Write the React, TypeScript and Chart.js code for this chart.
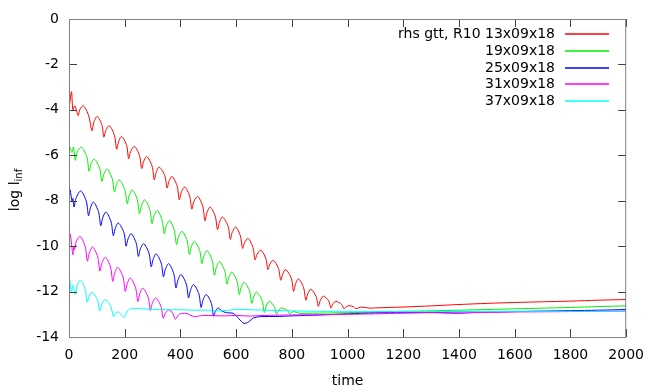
import React, { useEffect, useRef } from 'react';
import { Chart, registerables } from 'chart.js';

Chart.register(...registerables);

const FONT = '"DejaVu Sans", "Liberation Sans", sans-serif';

const seriesLabels = ['rhs gtt, R10 13x09x18', '19x09x18', '25x09x18', '31x09x18', '37x09x18'];
const seriesColors = ['#ff0000', '#00ee00', '#0000ff', '#ff00ff', '#00ffff'];

const xTicks = [0, 200, 400, 600, 800, 1000, 1200, 1400, 1600, 1800, 2000];
const yTicks = [0, -2, -4, -6, -8, -10, -12, -14];
const xTitle = 'time';
const yTitleMain = 'log l';
const yTitleSub = 'inf';

const red: [number, number][] = [
  [2, -3.78], [9, -3.2], [14, -4.0], [21, -3.82], [33, -4.25], [39, -3.98], [52, -3.82], [71, -4.27], [82, -4.92],
  [89, -4.55], [101, -4.29], [118, -4.66], [125, -5.2],
  [132, -4.91], [145, -4.7], [163, -5.12], [171, -5.73],
  [178, -5.4], [189, -5.17], [207, -5.57], [214, -6.15],
  [221, -5.84], [235, -5.61], [253, -6.01], [261, -6.58],
  [268, -6.27], [279, -6.05], [298, -6.47], [306, -7.08],
  [313, -6.75], [324, -6.52], [344, -6.9], [352, -7.44],
  [359, -7.14], [370, -6.93], [388, -7.35], [396, -7.96],
  [403, -7.63], [416, -7.4], [433, -7.8], [441, -8.37],
  [448, -8.04], [462, -7.81], [480, -8.25], [488, -8.88],
  [495, -8.53], [507, -8.28], [525, -8.69], [533, -9.27],
  [540, -8.95], [551, -8.72], [571, -9.12], [579, -9.7],
  [586, -9.39], [599, -9.16], [615, -9.55], [623, -10.1],
  [630, -9.85], [643, -9.66], [660, -10.05], [668, -10.6],
  [675, -10.36], [689, -10.18], [706, -10.53], [714, -11.03],
  [721, -10.79], [733, -10.62], [752, -10.98], [760, -11.5],
  [767, -11.23], [778, -11.03], [798, -11.42], [806, -11.99],
  [813, -11.67], [824, -11.44], [842, -11.83], [850, -12.38],
  [857, -12.1], [868, -11.9], [887, -12.21], [895, -12.65],
  [902, -12.39], [913, -12.2], [932, -12.41], [940, -12.72],
  [947, -12.55], [958, -12.43], [979, -12.57], [987, -12.76],
  [994, -12.68], [1005, -12.62], [1022, -12.67], [1029, -12.75],
  [1050, -12.68], [1077, -12.73], [1100, -12.72], [1200, -12.68], [1300, -12.63], [1400, -12.57],
  [1500, -12.52], [1600, -12.48], [1700, -12.45], [1800, -12.42], [1900, -12.38], [2000, -12.35],
];

const green: [number, number][] = [
  [0, -5.54], [5, -5.72], [11, -5.88], [16, -5.64], [23, -6.22], [29, -5.86], [44, -5.64], [64, -6.07], [72, -6.7],
  [79, -6.39], [91, -6.17], [110, -6.57], [118, -7.15],
  [125, -6.84], [137, -6.61], [155, -7.02], [163, -7.62],
  [170, -7.31], [181, -7.08], [200, -7.51], [209, -8.13],
  [216, -7.78], [227, -7.52], [245, -7.95], [253, -8.57],
  [260, -8.22], [272, -7.96], [290, -8.39], [298, -9.01],
  [305, -8.67], [317, -8.43], [334, -8.85], [342, -9.45],
  [349, -9.11], [361, -8.87], [378, -9.3], [386, -9.93],
  [393, -9.59], [406, -9.35], [424, -9.77], [432, -10.37],
  [439, -10.03], [450, -9.79], [469, -10.19], [477, -10.77],
  [484, -10.44], [496, -10.2], [514, -10.64], [522, -11.28],
  [529, -10.93], [540, -10.68], [559, -11.09], [567, -11.67],
  [574, -11.36], [585, -11.14], [603, -11.55], [611, -12.13],
  [618, -11.82], [629, -11.59], [648, -11.97], [656, -12.52],
  [663, -12.23], [673, -12.02], [693, -12.39], [701, -12.92],
  [708, -12.64], [719, -12.43], [737, -12.66], [745, -13.0],
  [752, -12.84], [762, -12.72], [784, -12.83], [792, -12.98],
  [800, -12.92], [808, -12.88], [830, -12.97], [850, -12.96], [900, -12.95], [1000, -12.93],
  [1100, -12.9], [1200, -12.87], [1300, -12.85], [1400, -12.82], [1500, -12.79], [1600, -12.76],
  [1700, -12.73], [1800, -12.7], [1900, -12.66], [2000, -12.63],
];

const blue: [number, number][] = [
  [0, -7.44], [4, -7.52], [11, -8.03], [14, -7.9], [18, -8.28], [25, -7.9], [42, -7.57], [62, -8.02], [70, -8.66],
  [77, -8.31], [88, -8.06], [106, -8.49], [114, -9.1],
  [121, -8.75], [133, -8.5], [151, -8.93], [159, -9.54],
  [166, -9.22], [177, -8.98], [197, -9.4], [205, -10.0],
  [212, -9.68], [223, -9.45], [241, -9.86], [249, -10.45],
  [256, -10.13], [268, -9.89], [287, -10.31], [295, -10.91],
  [302, -10.58], [313, -10.34], [331, -10.75], [339, -11.35],
  [346, -11.01], [358, -10.77], [376, -11.21], [384, -11.84],
  [391, -11.5], [402, -11.25], [421, -11.67], [429, -12.28],
  [436, -11.94], [447, -11.69], [466, -12.1], [474, -12.7],
  [481, -12.37], [493, -12.13], [511, -12.52], [519, -13.08],
  [525, -12.88], [535, -12.72], [548, -12.85], [565, -12.93], [590, -12.96], [610, -13.2], [628, -13.4],
  [645, -13.33], [662, -13.16], [690, -13.1], [740, -13.1], [800, -13.07], [900, -13.03], [1000, -12.98],
  [1100, -12.94], [1200, -12.93], [1300, -12.92], [1400, -12.9], [1500, -12.9], [1600, -12.88],
  [1700, -12.86], [1800, -12.84], [1900, -12.82], [2000, -12.79],
];

const magenta: [number, number][] = [
  [0, -9.39], [5, -9.5], [14, -10.38], [17, -10.0], [20, -10.15], [26, -9.8], [40, -9.57], [58, -10.02], [66, -10.66],
  [73, -10.3], [85, -10.04], [103, -10.47], [111, -11.1],
  [118, -10.75], [131, -10.49], [149, -10.92], [157, -11.55],
  [164, -11.19], [175, -10.93], [194, -11.36], [202, -11.99],
  [209, -11.65], [220, -11.4], [239, -11.83], [247, -12.44],
  [254, -12.1], [265, -11.85], [284, -12.25], [292, -12.83],
  [299, -12.51], [311, -12.28], [330, -12.65], [338, -13.18],
  [345, -12.98], [358, -12.8], [372, -12.95], [382, -13.22], [395, -13.0], [420, -12.96], [450, -13.1],
  [480, -13.05], [520, -13.06], [560, -13.07], [600, -13.05], [650, -13.08], [700, -13.05], [800, -13.03],
  [900, -13.02], [1000, -13.0], [1100, -12.98], [1200, -12.95], [1300, -12.93], [1350, -12.95],
  [1400, -12.97], [1450, -12.93], [1500, -12.92], [1600, -12.9], [1700, -12.89], [1800, -12.88],
  [1900, -12.87], [2000, -12.86],
];

const cyan: [number, number][] = [
  [0, -11.4], [3, -11.5], [9, -12.06], [13, -11.72], [17, -11.88], [23, -12.13], [29, -11.75], [41, -11.5],
  [58, -11.9], [65, -12.47],
  [72, -12.21], [83, -12.02], [102, -12.36], [110, -12.86],
  [117, -12.56], [131, -12.35], [150, -12.66], [160, -13.11],
  [167, -12.95], [178, -12.9], [190, -13.05], [198, -13.14], [210, -12.85], [225, -12.74], [260, -12.76],
  [300, -12.78], [350, -12.8], [400, -12.8], [450, -12.82], [500, -12.82], [550, -12.85], [600, -12.78],
  [650, -12.8], [700, -12.82], [800, -12.85], [900, -12.87], [1000, -12.87], [1100, -12.87], [1200, -12.88],
  [1300, -12.88], [1400, -12.87], [1500, -12.88], [1600, -12.87], [1700, -12.87], [1800, -12.87],
  [1900, -12.87], [2000, -12.86],
];

const seriesData = [red, green, blue, magenta, cyan];

const framePlugin = {
  id: 'gnuplotFrame',
  afterDraw(chart: any) {
    const { ctx, chartArea: a, scales } = chart;
    const xs = scales.x;
    const ys = scales.y;
    ctx.save();
    // ticks (inward, mirrored)
    ctx.strokeStyle = '#404040';
    ctx.lineWidth = 1;
    ctx.beginPath();
    for (const v of xTicks) {
      const px = Math.round(xs.getPixelForValue(v)) + 0.5;
      ctx.moveTo(px, a.bottom);
      ctx.lineTo(px, a.bottom - 8);
      ctx.moveTo(px, a.top);
      ctx.lineTo(px, a.top + 8);
    }
    for (const v of yTicks) {
      const py = Math.round(ys.getPixelForValue(v)) + 0.5;
      ctx.moveTo(a.left, py);
      ctx.lineTo(a.left + 8, py);
      ctx.moveTo(a.right, py);
      ctx.lineTo(a.right - 8, py);
    }
    ctx.stroke();
    // border
    ctx.strokeStyle = '#808080';
    ctx.strokeRect(a.left + 0.5, a.top + 0.5, a.right - a.left - 1, a.bottom - a.top);

    // legend
    ctx.font = `14px ${FONT}`;
    ctx.fillStyle = '#000';
    ctx.textAlign = 'right';
    ctx.textBaseline = 'middle';
    seriesLabels.forEach((label, i) => {
      const y = Math.round(34 + i * 16.8);
      ctx.fillText(label, 555, y + 0.5);
      ctx.strokeStyle = seriesColors[i];
      ctx.lineWidth = 1.4;
      ctx.beginPath();
      ctx.moveTo(565, y);
      ctx.lineTo(609, y);
      ctx.stroke();
    });

    // x title
    ctx.textAlign = 'center';
    ctx.textBaseline = 'middle';
    ctx.fillText(xTitle, (a.left + a.right) / 2, 381);

    // y title with subscript
    ctx.translate(19, 190);
    ctx.rotate(-Math.PI / 2);
    ctx.textAlign = 'left';
    ctx.textBaseline = 'alphabetic';
    ctx.font = `14px ${FONT}`;
    const w1 = ctx.measureText(yTitleMain).width;
    ctx.font = `10px ${FONT}`;
    const w2 = ctx.measureText(yTitleSub).width;
    const x0 = -(w1 + w2) / 2;
    ctx.font = `14px ${FONT}`;
    ctx.fillText(yTitleMain, x0, 0);
    ctx.font = `10px ${FONT}`;
    ctx.fillText(yTitleSub, x0 + w1, 3);
    ctx.restore();
  },
};

export default function App() {
  const ref = useRef<HTMLCanvasElement | null>(null);

  useEffect(() => {
    const canvas = ref.current;
    if (!canvas) return;
    const chart = new Chart(canvas, {
      type: 'line',
      data: {
        datasets: seriesData.map((d, i) => ({
          label: seriesLabels[i],
          data: d.map(([x, y]) => ({ x, y })),
          borderColor: seriesColors[i],
          backgroundColor: seriesColors[i],
          borderWidth: 1,
          pointRadius: 0,
          tension: 0.3,
          fill: false,
          order: 5 - i,
        })),
      },
      options: {
        animation: false,
        responsive: false,
        devicePixelRatio: 1,
        layout: { padding: { top: 19, right: 27, left: 0, bottom: 0 } },
        plugins: {
          legend: { display: false },
          tooltip: { enabled: false },
          title: { display: false },
        },
        scales: {
          x: {
            type: 'linear',
            min: 0,
            max: 2000,
            afterBuildTicks: (s: any) => {
              s.ticks = xTicks.map((v) => ({ value: v }));
            },
            afterFit: (s: any) => {
              s.height = 55;
            },
            grid: { display: false, drawTicks: false },
            border: { display: false },
            ticks: {
              autoSkip: false,
              maxRotation: 0,
              padding: 10,
              color: '#000',
              font: { family: FONT, size: 14 },
              callback: (v: any) => String(v),
            },
          },
          y: {
            type: 'linear',
            min: -14,
            max: 0,
            afterBuildTicks: (s: any) => {
              s.ticks = yTicks.map((v) => ({ value: v }));
            },
            afterFit: (s: any) => {
              s.width = 69;
            },
            grid: { display: false, drawTicks: false },
            border: { display: false },
            ticks: {
              autoSkip: false,
              padding: 10,
              color: '#000',
              font: { family: FONT, size: 14 },
              callback: (v: any) => String(v),
            },
          },
        },
      },
      plugins: [framePlugin],
    });
    return () => chart.destroy();
  }, []);

  return (
    <div style={{ position: 'fixed', left: 0, top: 0, width: 654, height: 392, background: '#fff' }}>
      <canvas ref={ref} width={654} height={392} style={{ display: 'block', width: 654, height: 392 }} />
    </div>
  );
}
